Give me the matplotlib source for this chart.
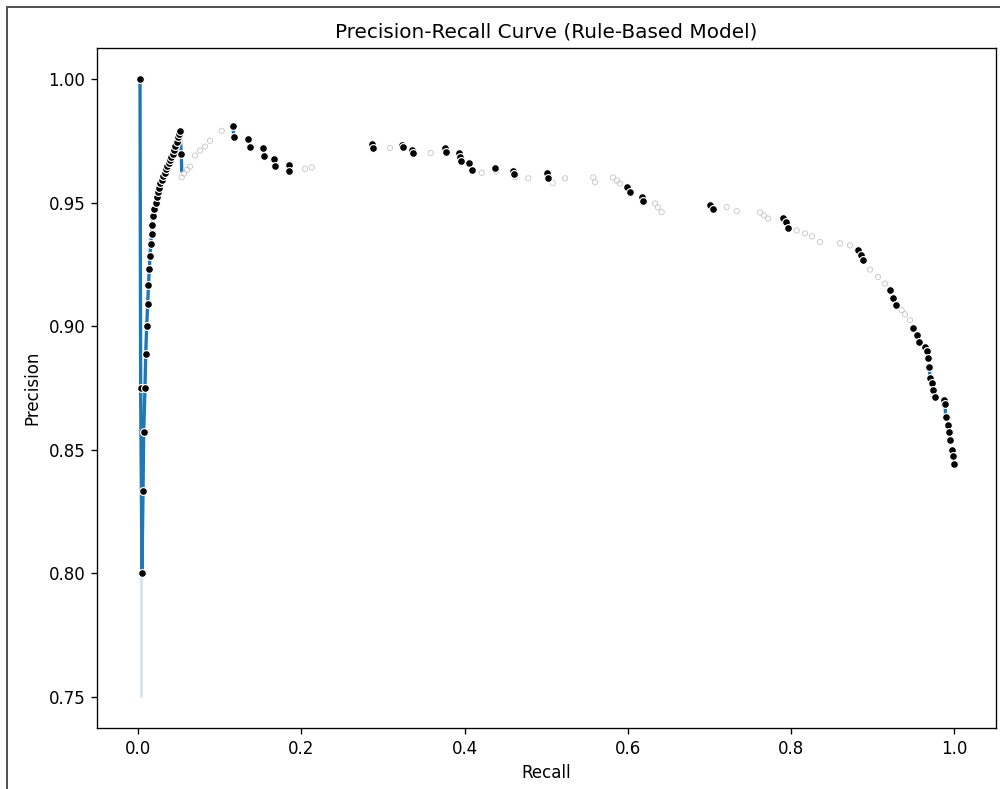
import numpy as np
import matplotlib
matplotlib.use("Agg")
import matplotlib.pyplot as plt
from matplotlib.patches import Rectangle

nan = np.nan

# 左侧：起点竖线 + 上升弧线
left_recall = [0.0021, 0.0029, 0.0045, 0.0058, 0.0066, 0.0082, 0.0091, 0.0103, 0.0115,
               0.0125, 0.0135, 0.0144, 0.0152, 0.0164, 0.0172, 0.0184, 0.0196, 0.0213,
               0.0225, 0.0241, 0.0254, 0.0270, 0.0287, 0.0306, 0.0324, 0.0340, 0.0355,
               0.0373, 0.0388, 0.0404, 0.0422, 0.0437, 0.0453, 0.0471, 0.0487, 0.0499,
               0.0511, 0.0527]
left_precision = [1.0000, 0.8749, 0.8000, 0.8333, 0.8571, 0.8750, 0.8888, 0.8999, 0.9089,
                  0.9167, 0.9231, 0.9284, 0.9331, 0.9374, 0.9410, 0.9444, 0.9472, 0.9497,
                  0.9521, 0.9542, 0.9560, 0.9577, 0.9593, 0.9608, 0.9621, 0.9634, 0.9646,
                  0.9658, 0.9671, 0.9683, 0.9696, 0.9712, 0.9729, 0.9745, 0.9763, 0.9777,
                  0.9788, 0.9696]

# 中间和右侧能看清的点
mid_recall = [0.1157, 0.1173, 0.1348, 0.1373, 0.1532, 0.1544, 0.1663, 0.1679, 0.1843, 0.1850,
              0.2860, 0.2873, 0.3235, 0.3248, 0.3358, 0.3370, 0.3759, 0.3767, 0.3930, 0.3942,
              0.3951, 0.4053, 0.4086, 0.4371, 0.4596, 0.4608, 0.5005, 0.5017, 0.5985, 0.6026,
              0.6169, 0.6189, 0.7006, 0.7047, 0.7904, 0.7937, 0.7966, 0.8824, 0.8853, 0.8877,
              0.9212, 0.9252, 0.9285, 0.9498, 0.9539, 0.9571, 0.9641, 0.9662, 0.9681, 0.9694,
              0.9702, 0.9723, 0.9743, 0.9763, 0.9874, 0.9886, 0.9895, 0.9919, 0.9935, 0.9947,
              0.9968, 0.9980, 0.9996]
mid_precision = [0.9810, 0.9766, 0.9757, 0.9723, 0.9719, 0.9687, 0.9677, 0.9649, 0.9652, 0.9626,
                 0.9737, 0.9721, 0.9734, 0.9723, 0.9713, 0.9699, 0.9719, 0.9703, 0.9700, 0.9685,
                 0.9667, 0.9658, 0.9632, 0.9638, 0.9629, 0.9616, 0.9618, 0.9598, 0.9562, 0.9542,
                 0.9524, 0.9505, 0.9492, 0.9475, 0.9438, 0.9421, 0.9396, 0.9306, 0.9286, 0.9266,
                 0.9145, 0.9112, 0.9085, 0.8991, 0.8964, 0.8937, 0.8917, 0.8900, 0.8870, 0.8836,
                 0.8789, 0.8769, 0.8742, 0.8715, 0.8702, 0.8685, 0.8634, 0.8601, 0.8571, 0.8540,
                 0.8500, 0.8473, 0.8444]

# 被白边盖住、只剩淡影的点
faint_recall = [0.0532, 0.0560, 0.0597, 0.0634, 0.0695, 0.0756, 0.0817, 0.0879, 0.1022,
                0.2043, 0.2125, 0.3085, 0.3583, 0.4208, 0.4384, 0.4617, 0.4779, 0.5078,
                0.5229, 0.5576, 0.5597, 0.5817, 0.5866, 0.5903, 0.6332, 0.6369, 0.6414,
                0.7211, 0.7333, 0.7619, 0.7668, 0.7717, 0.8069, 0.8170, 0.8256, 0.8354,
                0.8599, 0.8722, 0.8967, 0.9065, 0.9150, 0.9355, 0.9396, 0.9457]
faint_precision = [0.9602, 0.9617, 0.9633, 0.9645, 0.9690, 0.9710, 0.9726, 0.9750, 0.9790,
                   0.9636, 0.9642, 0.9721, 0.9700, 0.9620, 0.9626, 0.9602, 0.9598, 0.9579,
                   0.9598, 0.9602, 0.9582, 0.9601, 0.9589, 0.9577, 0.9496, 0.9480, 0.9461,
                   0.9481, 0.9465, 0.9460, 0.9448, 0.9435, 0.9387, 0.9375, 0.9363, 0.9340,
                   0.9335, 0.9327, 0.9229, 0.9199, 0.9172, 0.9065, 0.9048, 0.9024]

# 能看见的蓝色折线段（nan 断开）
line_recall = left_recall + [0.0532, nan, 0.1157, 0.1173, nan, 0.9694, 0.9702, nan, 0.9886, 0.9895]
line_precision = left_precision + [0.9629, nan, 0.9810, 0.9766, nan, 0.8836, 0.8789, nan, 0.8685, 0.8634]

# 置信区间（浅蓝）
band_recall = [0.0037]
band_low = [0.750]
band_high = [0.875]

fig = plt.figure(figsize=(1000 / 120, 789 / 120), dpi=120)
ax = fig.add_axes([0.097, 0.0773, 0.899, 0.8619])

ax.vlines(band_recall, band_low, band_high, color="C0", alpha=0.2, lw=1.6, zorder=1)
ax.plot(line_recall, line_precision, color="C0", lw=2.0, zorder=2)
ax.scatter(faint_recall, faint_precision, s=10, facecolors="none", edgecolors="#c4c4c4",
           linewidths=0.5, zorder=3)
ax.scatter(left_recall + mid_recall, left_precision + mid_precision, s=22, c="black",
           edgecolors="white", linewidths=0.7, zorder=4)

ax.set_xlim(-0.0506, 1.0511)
ax.set_ylim(0.7375, 1.0125)
ax.set_xticks([0.0, 0.2, 0.4, 0.6, 0.8, 1.0])
ax.set_yticks([0.75, 0.80, 0.85, 0.90, 0.95, 1.00])
ax.set_xlabel("Recall")
ax.set_ylabel("Precision")
ax.set_title("Precision-Recall Curve (Rule-Based Model)")

# 图外框（原图被裁过，只露出左边和上边）
fig.patches.append(Rectangle((0.0067, -0.5), 2.0, 0.9915 + 0.5, transform=fig.transFigure,
                             fill=False, ec="#555555", lw=1.2))

fig.savefig("out.png", dpi=120)
